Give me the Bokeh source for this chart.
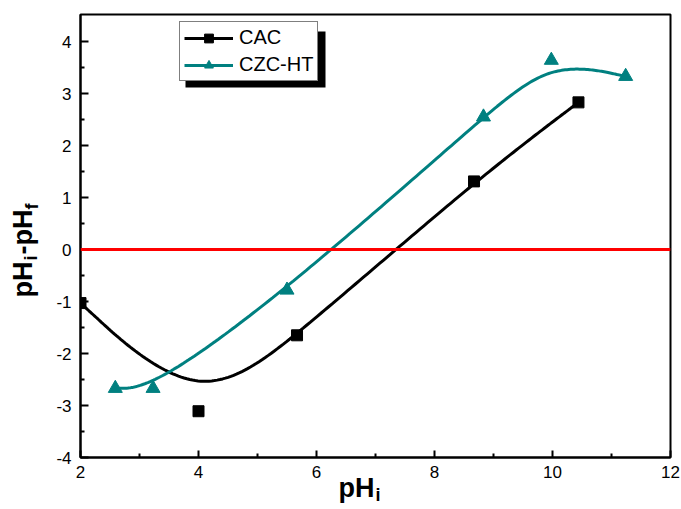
import numpy as np
from bokeh.plotting import figure
from bokeh.models import (Range1d, Span, Legend, LegendItem, BoxAnnotation,
                          FixedTicker, Title)
from bokeh.embed import file_html
from bokeh.resources import INLINE

# ---------------- data ----------------
cac_x = [2.0, 4.0, 5.67, 8.67, 10.44]
cac_y = [-1.03, -3.11, -1.65, 1.31, 2.83]
czc_x = [2.59, 3.23, 5.50, 8.83, 9.98, 11.24]
czc_y = [-2.67, -2.67, -0.78, 2.55, 3.64, 3.33]
x_ticks = [2, 4, 6, 8, 10, 12]
y_ticks = [-4, -3, -2, -1, 0, 1, 2, 3, 4]
series_names = ["CAC", "CZC-HT"]

TEAL = "#008080"
FONT = "Liberation Sans"


def bspline(px, py, n_per=40):
    """Uniform cubic B-spline with the data points as control points, end points tripled
    (the 'B-Spline' line connection of the original plotting program)."""
    q = np.column_stack([px, py]).astype(float)
    q = np.vstack([q[:1], q[:1], q, q[-1:], q[-1:]])
    t = np.linspace(0, 1, n_per)
    b0 = (1 - t) ** 3 / 6
    b1 = (3 * t ** 3 - 6 * t ** 2 + 4) / 6
    b2 = (-3 * t ** 3 + 3 * t ** 2 + 3 * t + 1) / 6
    b3 = t ** 3 / 6
    pts = []
    for i in range(len(q) - 3):
        seg = (np.outer(b0, q[i]) + np.outer(b1, q[i + 1]) +
               np.outer(b2, q[i + 2]) + np.outer(b3, q[i + 3]))
        pts.append(seg if i == 0 else seg[1:])
    pts = np.vstack(pts)
    return pts[:, 0], pts[:, 1]


# frame geometry (pixels)
FL, FR, FT, FB = 80, 670, 14, 457
X0, X1, Y0, Y1 = 2, 12, -4, 4.52

p = figure(width=681, height=509, output_backend="svg", toolbar_location=None,
           x_range=Range1d(X0, X1), y_range=Range1d(Y0, Y1),
           min_border_left=FL, min_border_right=681 - FR,
           min_border_top=FT, min_border_bottom=509 - FB)
p.background_fill_color = "white"
p.border_fill_color = "white"
p.outline_line_color = "black"
p.outline_line_width = 2
p.grid.visible = False

for ax in (p.xaxis[0], p.yaxis[0]):
    ax.axis_line_width = 2
    ax.axis_line_color = "black"
    ax.major_tick_line_width = 2
    ax.minor_tick_line_width = 2
    ax.major_tick_out = 0
    ax.minor_tick_out = 0
    ax.major_label_text_font = FONT
    ax.major_label_text_font_size = "17px"
    ax.major_label_text_color = "black"
    ax.axis_label = None

p.xaxis[0].ticker = FixedTicker(ticks=x_ticks, minor_ticks=[3, 5, 7, 9, 11])
p.yaxis[0].ticker = FixedTicker(ticks=y_ticks,
                                minor_ticks=[-3.5, -2.5, -1.5, -0.5, 0.5, 1.5, 2.5, 3.5])
p.yaxis[0].major_label_overrides = {t: str(t) for t in y_ticks}
p.xaxis[0].major_label_overrides = {t: str(t) for t in x_ticks}
p.xaxis[0].major_tick_in = 7
p.xaxis[0].minor_tick_in = 4
p.yaxis[0].major_tick_in = 8
p.yaxis[0].minor_tick_in = 4
p.xaxis[0].major_label_standoff = 8
p.yaxis[0].major_label_standoff = 9

# zero line
p.add_layout(Span(location=0, dimension="width", line_color="red", line_width=3))

# curves
cx, cy = bspline(cac_x, cac_y)
zx, zy = bspline(czc_x, czc_y)
l1 = p.line(cx, cy, line_color="black", line_width=3)
s1 = p.scatter(cac_x, cac_y, marker="square", size=11, fill_color="black", line_color="black")
l2 = p.line(zx, zy, line_color=TEAL, line_width=3)
s2 = p.scatter(czc_x, czc_y, marker="triangle", size=14, fill_color=TEAL, line_color=TEAL)


# legend + drop shadow
def px2x(px):
    return X0 + (px - FL) * (X1 - X0) / (FR - FL)


def py2y(py):
    return Y0 + (FB - py) * (Y1 - Y0) / (FB - FT)


shadow = BoxAnnotation(left=px2x(185), right=px2x(325), top=py2y(31), bottom=py2y(87),
                       fill_color="black", fill_alpha=1, line_color=None, line_alpha=0)
p.add_layout(shadow)

legend = Legend(items=[LegendItem(label=series_names[0], renderers=[l1, s1]),
                       LegendItem(label=series_names[1], renderers=[l2, s2])],
                location=(99, 376))
legend.label_text_font = FONT
legend.label_text_font_size = "20px"
legend.label_text_color = "black"
legend.glyph_width = 49
legend.glyph_height = 22
legend.label_height = 22
legend.label_standoff = 6
legend.spacing = 4
legend.padding = 4
legend.margin = 0
legend.border_line_color = "black"
legend.border_line_width = 1
legend.background_fill_color = "white"
legend.background_fill_alpha = 1
p.add_layout(legend, "center")

# ---------------- axis titles with subscripts (Title pieces in side panels) ----------------
BIG, SMALL = 27, 18
ASC, DESC = 0.905, 0.212


def hbox(fs):
    return 1.2 * fs      # estimated text-box height used by the layout


# below: x-axis panel height ~ standoff + label box
edge = FB + 8 + hbox(17)
for text, fs, x_px, base_px in [("pH", BIG, 338, 502), ("i", SMALL, 375, 508)]:
    target_top = base_px - ASC * fs
    st = int(round(2 * (target_top - edge)))
    p.add_layout(Title(text=text, align="left", vertical_align="top", offset=x_px - FL,
                       standoff=st, text_font=FONT, text_font_size=f"{fs}px",
                       text_font_style="bold", text_color="black"), "below")
    edge += max(0.0, 2 + hbox(fs) + st)

# left: y-axis panel width ~ standoff + widest tick label ("-4")
edge = FL - (9 + 0.889 * 17)
for text, fs, y_px, base_px in [("i", SMALL, 260, 39), ("pH", BIG, 297, 33),
                                ("-pH", BIG, 254, 33), ("f", SMALL, 209, 39)]:
    target_bottom = base_px + DESC * fs
    st = int(round(2 * (edge - target_bottom)))
    p.add_layout(Title(text=text, align="left", vertical_align="bottom", offset=FB - y_px,
                       standoff=st, text_font=FONT, text_font_size=f"{fs}px",
                       text_font_style="bold", text_color="black"), "left")
    edge -= max(0.0, 2 + hbox(fs) + st)

open("out.html", "w").write(file_html(p, INLINE))
